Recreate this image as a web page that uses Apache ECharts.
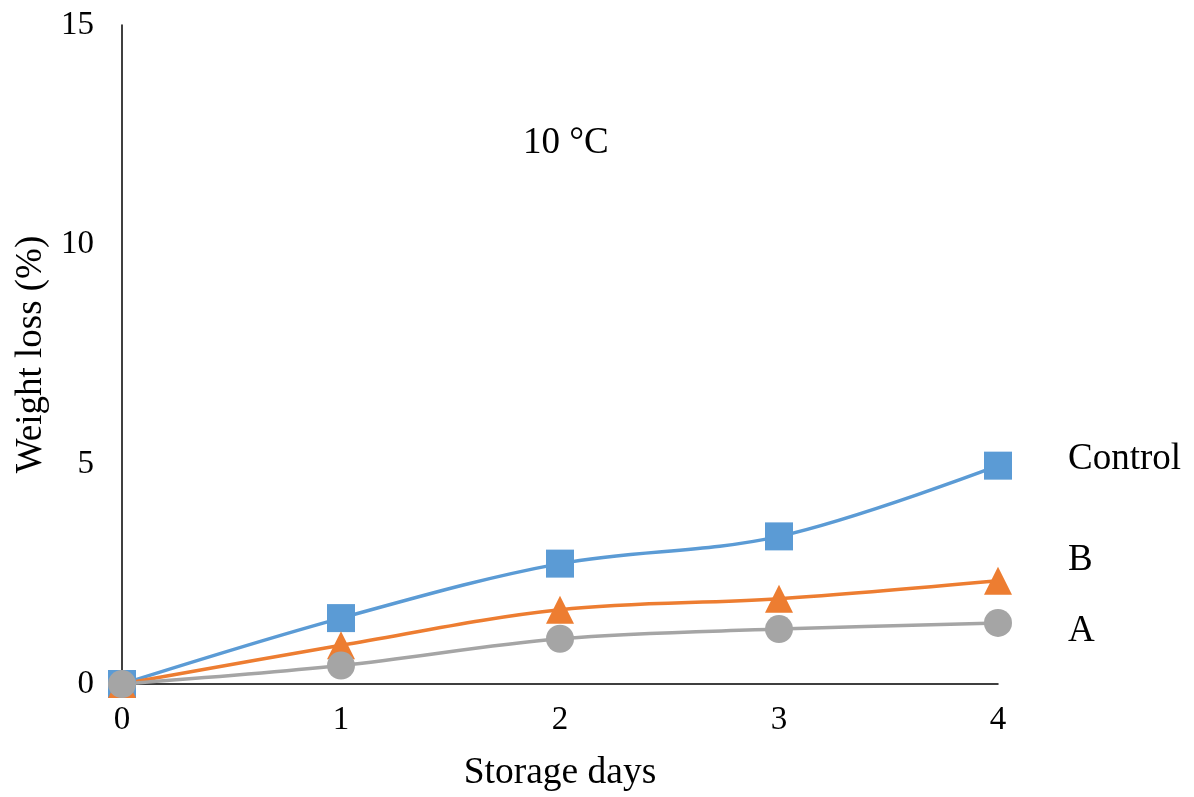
<!DOCTYPE html>
<html>
<head>
<meta charset="utf-8">
<script src="https://cdn.jsdelivr.net/npm/echarts@6/dist/echarts.min.js"></script>
<style>html,body{margin:0;padding:0;background:#fff}#c{width:1194px;height:797px}</style>
</head>
<body>
<div id="c"></div>
<script>
const days = [0, 1, 2, 3, 4];
const controlVals = [0, 1.50, 2.74, 3.36, 4.97];
const bVals = [0, 0.88, 1.69, 1.94, 2.35];
const aVals = [0, 0.42, 1.03, 1.25, 1.39];
const yTicks = [0, 5, 10, 15];
const titleText = '10 °C';

const FONT = '"Liberation Serif", "Times New Roman", serif';
const chart = echarts.init(document.getElementById('c'));
function mk(name, vals, color, symbol, dy) {
  return {
    name: name, type: 'line', smooth: 0.35,
    data: days.map((d, i) => [d, vals[i]]),
    symbol: symbol, symbolSize: 28,
    lineStyle: {color: color, width: 3.5},
    itemStyle: {color: color},
    endLabel: {show: true, formatter: name, color: '#000', fontFamily: FONT, fontSize: 37,
      distance: 0, offset: [70, dy]},
    z: 2
  };
}
chart.setOption({
  animation: false,
  backgroundColor: '#fff',
  title: {text: titleText, left: 518, top: 120,
    textStyle: {fontFamily: FONT, fontSize: 37, fontWeight: 'normal', color: '#000'}},
  grid: {left: 122, right: 196, top: 25, bottom: 112},
  xAxis: {type: 'value', min: 0, max: 4, interval: 1,
    name: 'Storage days', nameLocation: 'middle', nameGap: 70,
    nameTextStyle: {fontFamily: FONT, fontSize: 37.5, color: '#000'},
    axisLine: {lineStyle: {color: '#000', width: 1.5}},
    axisTick: {show: false}, splitLine: {show: false},
    axisLabel: {margin: 20, fontFamily: FONT, fontSize: 33, color: '#000'}},
  yAxis: {type: 'value', min: 0, max: 15, interval: 5,
    name: 'Weight loss (%)', nameLocation: 'middle', nameGap: 63,
    nameTextStyle: {fontFamily: FONT, fontSize: 37, color: '#000'},
    axisLine: {show: true, lineStyle: {color: '#000', width: 1.5}},
    axisTick: {show: false}, splitLine: {show: false},
    axisLabel: {margin: 28, fontFamily: FONT, fontSize: 33, color: '#000',
      formatter: v => yTicks.includes(v) ? String(v) : ''}},
  series: [
    mk('Control', controlVals, '#5B9BD5', 'rect', -6),
    mk('B', bVals, '#ED7D31', 'triangle', -20),
    mk('A', aVals, '#A5A5A5', 'circle', 8)
  ]
});
</script>
</body>
</html>
